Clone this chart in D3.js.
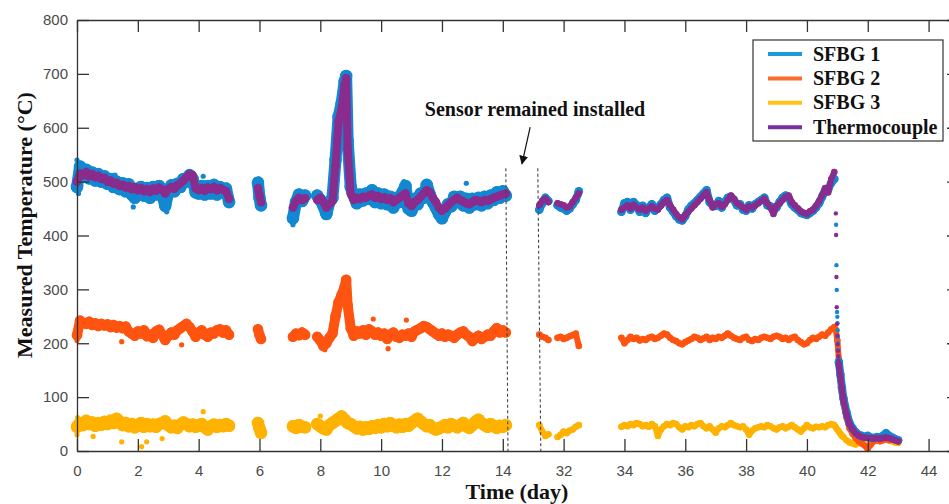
<!DOCTYPE html>
<html>
<head>
<meta charset="utf-8">
<script src="https://cdn.jsdelivr.net/npm/d3@7"></script>
<style>
  body { margin: 0; background: #fff; }
  svg { display: block; }
</style>
</head>
<body>
<div id="hook-temp"></div>
<script>
'use strict';

// sample times (day), shared by the four series; null = no reading
var days = [
  0,0.1,0.2,0.3,0.4,0.5,0.6,0.7,0.8,0.9,1,1.1,1.2,1.3,1.4,1.5,1.6,1.7,1.8,1.9,
  2,2.1,2.2,2.3,2.4,2.5,2.6,2.7,2.8,2.9,3,3.1,3.2,3.3,3.4,3.5,3.6,3.7,3.8,3.9,
  4,4.1,4.2,4.3,4.4,4.5,4.6,4.7,4.8,4.9,5,
  5.95,6,6.05,
  7.1,7.2,7.3,7.4,7.5,
  7.9,8,8.1,8.2,8.3,8.4,8.5,8.6,8.7,8.8,8.85,8.9,9,
  9.1,9.2,9.3,9.4,9.5,9.6,9.7,9.8,9.9,
  10,10.1,10.2,10.3,10.4,10.5,10.6,10.7,10.8,10.9,
  11,11.1,11.2,11.3,11.4,11.5,11.6,11.7,11.8,11.9,
  12,12.1,12.2,12.3,12.4,12.5,12.6,12.7,12.8,12.9,
  13,13.1,13.2,13.3,13.4,13.5,13.6,13.7,13.8,13.9,14,14.1,
  31.2,31.3,31.4,31.5,
  31.8,31.9,32,32.1,32.2,32.3,32.4,32.5,
  33.9,
  34,34.1,34.2,34.3,34.4,34.5,34.6,34.7,34.8,34.9,
  35,35.1,35.2,35.3,35.4,35.5,35.6,35.7,35.8,35.9,
  36,36.1,36.2,36.3,36.4,36.5,36.6,36.7,36.8,36.9,
  37,37.1,37.2,37.3,37.4,37.5,37.6,37.7,37.8,37.9,
  38,38.1,38.2,38.3,38.4,38.5,38.6,38.7,38.8,38.9,
  39,39.1,39.2,39.3,39.4,39.5,39.6,39.7,39.8,39.9,
  40,40.1,40.2,40.3,40.4,40.5,40.6,40.7,40.8,40.9,
  40.95,41,41.05,41.1,41.15,41.2,41.3,41.4,41.5,41.6,41.7,41.8,41.9,
  42,42.1,42.2,42.3,42.4,42.5,42.6,42.7,42.8,42.9,43
];

var sfbg1 = [
  490,528,518,522,506,517,502,514,500,510,
  496,505,490,500,486,497,482,495,476,470,
  478,490,474,488,470,490,476,492,478,455,
  480,493,482,496,490,505,500,512,505,480,
  478,492,476,492,478,494,476,490,480,487,
  462,
  498,470,456,
  432,462,476,464,474,
  474,466,455,440,462,470,540,620,645,686,696,575,490,
  474,460,476,465,478,468,484,462,478,
  460,476,458,472,452,470,462,480,492,450,
  446,468,458,478,470,494,476,462,452,440,
  432,444,458,454,472,462,472,456,468,452,
  468,458,470,456,472,460,474,466,480,470,
  482,474,
  448,460,470,464,
  456,452,450,446,450,458,466,482,
  444,
  460,462,448,462,456,444,455,442,452,458,
  446,452,458,466,470,452,444,436,430,428,
  436,448,455,460,466,472,478,484,462,456,
  455,464,452,462,470,472,466,456,458,448,
  446,456,450,458,462,466,470,456,454,446,
  452,462,470,474,470,458,452,448,442,440,
  438,442,446,452,460,472,484,486,498,505,
  null,null,165,142,118,98,72,52,42,35,30,28,26,
  28,25,24,26,25,28,33,28,25,22,20
];

var sfbg2 = [
  215,242,238,236,240,234,237,232,236,233,
  235,230,234,229,232,228,231,222,218,214,
  222,218,224,213,216,210,222,225,216,206,
  214,220,216,224,228,232,236,230,222,212,
  220,224,216,212,220,218,224,226,220,224,
  216,
  226,215,208,
  212,218,215,220,216,
  212,205,195,200,210,218,250,276,290,305,318,270,228,
  214,222,218,224,216,226,222,216,220,
  214,218,208,216,220,212,210,216,214,218,
  212,222,225,228,232,230,226,222,218,214,
  218,212,216,214,210,216,220,222,216,212,
  204,210,214,208,212,216,214,222,228,220,
  224,220,
  216,212,210,206,
  210,212,208,210,213,215,218,195,
  210,
  200,206,212,208,210,205,208,206,210,212,
  208,210,214,218,216,210,206,204,200,198,
  202,205,208,212,210,206,209,212,206,210,
  208,212,210,214,218,214,210,208,206,210,
  212,206,204,208,206,210,212,210,208,212,
  214,212,208,210,206,210,212,206,202,198,
  200,206,210,208,212,216,214,220,226,230,
  225,205,170,135,108,88,62,42,32,24,18,14,10,
  4,12,18,20,18,20,22,20,22,20,18
];

var sfbg3 = [
  45,52,48,56,50,53,47,52,49,54,
  50,56,52,60,55,48,52,46,50,44,
  47,52,45,50,46,49,45,50,52,55,
  48,44,47,43,49,53,50,46,49,45,
  48,50,44,40,46,49,45,48,46,50,
  47,
  52,42,34,
  46,43,48,45,44,
  50,46,42,40,48,52,56,60,64,58,55,52,50,
  46,42,45,40,44,41,46,43,48,
  44,50,46,52,47,44,49,45,50,47,
  52,56,60,55,50,46,48,43,40,42,
  45,48,44,50,47,44,48,52,46,43,
  48,54,58,52,48,45,50,46,43,47,
  45,48,
  48,36,28,31,
  26,30,36,33,38,40,45,48,
  45,
  48,46,50,48,52,50,46,48,45,50,
  46,28,40,46,50,48,52,50,44,40,
  46,44,48,46,50,52,46,42,46,40,
  34,42,46,44,48,52,48,46,44,46,
  40,30,38,42,44,46,44,48,46,42,
  40,44,46,42,45,48,44,40,36,42,
  48,44,42,45,44,46,44,48,50,48,
  44,40,36,32,28,26,20,16,14,12,15,20,22,
  24,20,18,22,25,22,24,20,18,16,15
];

var thermo = [
  500,515,512,518,510,514,508,511,505,507,
  500,502,496,498,492,494,489,492,486,490,
  484,488,482,486,481,487,483,489,485,478,
  486,490,487,493,497,502,508,514,512,488,
  484,488,483,489,486,490,484,488,485,482,
  468,
  488,474,462,
  452,464,470,466,469,
  466,470,462,452,458,464,530,612,635,680,692,560,478,
  466,470,468,472,470,474,476,470,473,
  468,471,466,469,462,466,470,474,478,460,
  455,462,466,472,478,484,480,470,462,452,
  446,450,456,462,466,470,466,463,460,458,
  462,466,464,462,466,464,467,470,472,474,
  476,478,
  456,465,468,462,
  460,458,456,452,454,462,470,478,
  448,
  452,456,450,457,452,448,452,446,450,454,
  450,448,455,462,466,456,448,440,434,430,
  438,444,450,456,462,468,474,480,466,452,
  458,460,454,458,466,474,468,460,456,452,
  448,454,452,456,460,464,468,460,452,440,
  455,460,466,472,474,462,456,450,445,442,
  440,445,448,455,464,475,488,480,505,518,
  null,null,160,138,115,95,68,50,40,33,29,26,25,
  24,24,23,24,23,24,25,24,22,20,18
];

// sparse readings during the fast cool-down
var sfbg1DropDays = [40.96,40.97,40.98,40.99,41,41.005,41.01,41.015,41.02,41.025,41.03,41.035,41.04];
var sfbg1Drop     = [420,345,299,258,249,237,224,212,200,187,175,170,162];
var thermoDropDays = [40.95,40.96,40.97,40.98,40.99,41,41.01,41.02,41.03,41.04];
var thermoDrop     = [441,401,323,267,236,214,198,186,176,168];

// stray points off the main bands
var sfbg1OutDays = [0,0.05,1.25,4.15,5.98,7.1,7.12,10.75,12.8,12.05,2.95,1.85];
var sfbg1Out     = [540,478,512,510,505,420,425,500,497,426,444,453];
var sfbg2OutDays = [1.47,3.44,0,9.74,10.83,10.23,8.15,0.02];
var sfbg2Out     = [203,197,205,245,243,190,188,225];
var sfbg3OutDays = [1.47,2.12,2.29,0.53,4.15,2.8,0,8,0.02];
var sfbg3Out     = [17,8,17,27,73,23,30,65,62];

var seriesNames = ['SFBG 1', 'SFBG 2', 'SFBG 3', 'Thermocouple'];
var tickDays = [0,2,4,6,8,10,12,14,32,34,36,38,40,42,44];
var tempTicks = [0,100,200,300,400,500,600,700,800];

(function() {

var width = 949,
  height = 504;

var colors = {
  'SFBG 1': '#1287d2',
  'SFBG 2': '#ff5410',
  'SFBG 3': '#ffb200',
  'Thermocouple': '#8a2b8e'
};
var legendColors = ['#1f9ad9', '#ff6b2c', '#ffc21a', '#7d2ea0'];

// the axis leaves out days 14..30, so day d > 20 is drawn at d - 16
var x = d3.scaleLinear().domain([0, 29]).range([77, 959]);
function dx(t) { return x(t > 20 ? t - 16 : t); }
var y = d3.scaleLinear().domain([0, 800]).range([451, 20]);

var svg = d3.select('#hook-temp')
  .append('svg')
  .attr('width', width)
  .attr('height', height)
  .style('background', '#fff');

var sans = '"Liberation Sans", Arial, sans-serif',
  serif = '"Liberation Serif", "Times New Roman", serif';

function runs(vals) {
  var out = [], cur = [];
  for (var i = 0; i < days.length; i++) {
    var v = vals[i];
    if (v == null) {
      if (cur.length) out.push(cur);
      cur = [];
      continue;
    }
    if (cur.length && days[i] - cur[cur.length - 1].t > 0.16) {
      out.push(cur);
      cur = [];
    }
    cur.push({t: days[i], v: v});
  }
  if (cur.length) out.push(cur);
  return out;
}

var line = d3.line()
  .x(function(d) { return dx(d.t); })
  .y(function(d) { return y(d.v); });

var plot = svg.append('g');

function band(vals, color, wEarly, wLate) {
  var g = plot.append('g');
  runs(vals).forEach(function(r) {
    var w = r[0].t > 20 ? wLate : wEarly;
    g.append('path')
      .attr('d', line(r))
      .style('fill', 'none')
      .style('stroke', color)
      .style('stroke-width', w)
      .style('stroke-linejoin', 'round')
      .style('stroke-linecap', 'round');
    g.selectAll(null)
      .data(r)
      .enter()
      .append('circle')
      .attr('cx', function(d) { return dx(d.t); })
      .attr('cy', function(d) { return y(d.v); })
      .attr('r', w / 2 + 0.3)
      .style('fill', color);
  });
}

function dots(ts, vs, color, r) {
  plot.append('g')
    .selectAll('circle')
    .data(ts)
    .enter()
    .append('circle')
    .attr('cx', function(d) { return dx(d); })
    .attr('cy', function(d, i) { return y(vs[i]); })
    .attr('r', r)
    .style('fill', color);
}

band(sfbg3, colors['SFBG 3'], 12, 6);
dots(sfbg3OutDays, sfbg3Out, colors['SFBG 3'], 2.6);
band(sfbg2, colors['SFBG 2'], 10, 6);
dots(sfbg2OutDays, sfbg2Out, colors['SFBG 2'], 2.6);
band(sfbg1, colors['SFBG 1'], 12, 8);
dots(sfbg1OutDays, sfbg1Out, colors['SFBG 1'], 2.6);
dots(sfbg1DropDays, sfbg1Drop, colors['SFBG 1'], 2.2);
band(thermo, colors['Thermocouple'], 8, 6);
dots(thermoDropDays, thermoDrop, colors['Thermocouple'], 2.2);

// axes box
var axisColor = '#333';
var tickX = tickDays.map(function(d) { return d > 20 ? d - 16 : d; });

var xAxis = svg.append('g')
  .attr('transform', 'translate(0,451)')
  .call(d3.axisBottom(x)
    .tickValues(tickX)
    .tickSize(-12)
    .tickSizeOuter(0)
    .tickPadding(14)
    .tickFormat(function(d) { return d > 14 ? d + 16 : d; }));

var xTop = svg.append('g')
  .attr('transform', 'translate(0,20)')
  .call(d3.axisTop(x)
    .tickValues(tickX)
    .tickSize(-12)
    .tickSizeOuter(0)
    .tickFormat(''));

var yAxis = svg.append('g')
  .attr('transform', 'translate(77,0)')
  .call(d3.axisLeft(y)
    .tickValues(tempTicks)
    .tickSize(-12)
    .tickSizeOuter(0)
    .tickPadding(9));

var yRight = svg.append('g')
  .attr('transform', 'translate(959,0)')
  .call(d3.axisRight(y)
    .tickValues(tempTicks)
    .tickSize(-12)
    .tickSizeOuter(0)
    .tickFormat(''));

[xAxis, xTop, yAxis, yRight].forEach(function(a) {
  a.select('.domain').style('stroke', axisColor).style('stroke-width', 1.3);
  a.selectAll('.tick line').style('stroke', axisColor).style('stroke-width', 1.3);
  a.selectAll('.tick text')
    .style('font-family', sans)
    .style('font-size', '15px')
    .style('fill', '#4a4a4a');
});

// gap markers and note
var gapLines = [[14.1, 14.17], [31.15, 31.25]];
svg.append('g')
  .selectAll('line')
  .data(gapLines)
  .enter()
  .append('line')
  .attr('x1', function(d) { return dx(d[0]); })
  .attr('y1', y(525))
  .attr('x2', function(d) { return dx(d[1]); })
  .attr('y2', y(0))
  .style('stroke', '#444')
  .style('stroke-width', 1.1)
  .style('stroke-dasharray', '3,2.5');

svg.append('defs')
  .append('marker')
  .attr('id', 'arrow-head')
  .attr('viewBox', '0 0 10 10')
  .attr('refX', 9)
  .attr('refY', 5)
  .attr('markerWidth', 9)
  .attr('markerHeight', 9)
  .attr('markerUnits', 'userSpaceOnUse')
  .attr('orient', 'auto')
  .append('path')
  .attr('d', 'M0,0 L10,5 L0,10 Z')
  .style('fill', '#111');

svg.append('line')
  .attr('x1', dx(14.9))
  .attr('y1', y(601))
  .attr('x2', dx(14.63))
  .attr('y2', y(533))
  .style('stroke', '#111')
  .style('stroke-width', 1.2)
  .attr('marker-end', 'url(#arrow-head)');

svg.append('text')
  .attr('x', dx(15.06))
  .attr('y', y(622))
  .attr('text-anchor', 'middle')
  .style('font-family', serif)
  .style('font-weight', 'bold')
  .style('font-size', '20px')
  .style('fill', '#111')
  .text('Sensor remained installed');

// titles
svg.append('text')
  .attr('transform', 'translate(32,225) rotate(-90)')
  .attr('text-anchor', 'middle')
  .style('font-family', serif)
  .style('font-weight', 'bold')
  .style('font-size', '22px')
  .style('fill', '#111')
  .text('Measured Temperature (°C)');

svg.append('text')
  .attr('x', 517)
  .attr('y', 499)
  .attr('text-anchor', 'middle')
  .style('font-family', serif)
  .style('font-weight', 'bold')
  .style('font-size', '22px')
  .style('fill', '#111')
  .text('Time (day)');

// legend
var legend = svg.append('g').attr('transform', 'translate(753,40)');
legend.append('rect')
  .attr('x', 0)
  .attr('y', 0)
  .attr('width', 190)
  .attr('height', 101)
  .style('fill', '#fff')
  .style('stroke', '#333')
  .style('stroke-width', 1.2);

var item = legend.selectAll('g.item')
  .data(seriesNames)
  .enter()
  .append('g')
  .attr('class', 'item')
  .attr('transform', function(d, i) { return 'translate(0,' + (14 + i * 24.4) + ')'; });

item.append('line')
  .attr('x1', 15)
  .attr('x2', 49)
  .style('stroke', function(d, i) { return legendColors[i]; })
  .style('stroke-width', 4);

item.append('text')
  .attr('x', 60)
  .attr('y', 6.5)
  .style('font-family', serif)
  .style('font-weight', 'bold')
  .style('font-size', '20px')
  .style('fill', '#111')
  .text(function(d) { return d; });

}());
</script>
</body>
</html>
